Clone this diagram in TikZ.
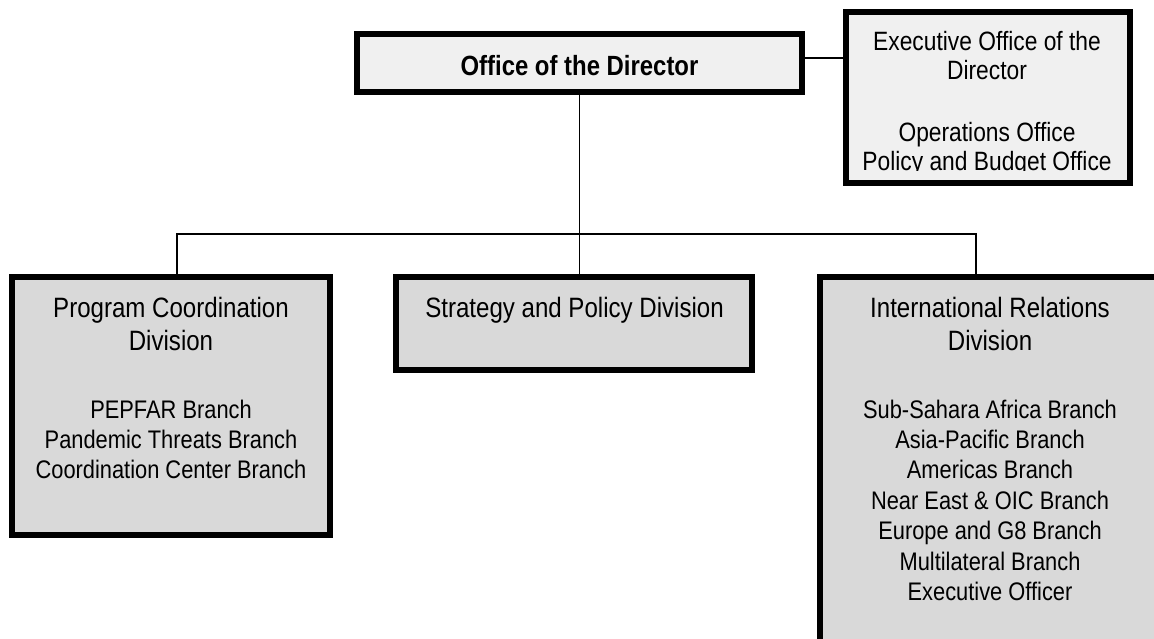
\documentclass[tikz,border=0pt]{standalone}
\usepackage{fontspec}
\setmainfont{Liberation Sans}[FakeStretch=0.86]
\definecolor{lightbox}{HTML}{F0F0F0}
\definecolor{graybox}{HTML}{D9D9D9}
\newcommand{\ctab}[1]{\begin{tabular}[t]{@{}c@{}}#1\end{tabular}}
\begin{document}
\begin{tikzpicture}[x=0.5pt,y=-0.5pt,
  orgbox/.style={draw=black,line width=3pt,inner sep=0pt,outer sep=0pt,rectangle},
  topbox/.style={orgbox,fill=lightbox},
  divbox/.style={orgbox,fill=graybox},
  txt/.style={inner sep=0pt,outer sep=0pt,anchor=base},
  titlefont/.style={font=\fontsize{14}{16.5}\selectfont},
  listfont/.style={font=\fontsize{12.7}{15.2}\selectfont},
  link/.style={draw=black,line width=0.7pt}]
\useasboundingbox (0,0) rectangle (1154,638);
\clip (0,0) rectangle (1154,638);
\fill[white] (0,0) rectangle (1154,638);
% boxes
\node[topbox,minimum width=222.5pt,minimum height=29pt] (dir) at (579.5,63) {};
\node[topbox,minimum width=142pt,minimum height=85.5pt] (exec) at (988,97.5) {};
\node[divbox,minimum width=159pt,minimum height=129pt] (pc) at (171,406) {};
\node[divbox,minimum width=178pt,minimum height=46.5pt] (strat) at (574,323.5) {};
\node[divbox,minimum width=170pt,minimum height=190pt] (ir) at (990,467) {};
% texts
\node[txt,font=\fontsize{13.9}{16}\selectfont\bfseries] (dirtext) at (579.5,75) {Office of the Director};
\begin{scope}
  \clip (846,12) rectangle (1130,170.5);
  \node[txt,font=\fontsize{13.25}{14.5}\selectfont] (exectext) at (987,50)
    {\ctab{Executive Office of the\\Director\\[16.5pt]Operations Office\\Policy and Budget Office}};
\end{scope}
\node[txt,titlefont] (pctitle) at (171,317) {\ctab{Program Coordination\\Division}};
\node[txt,listfont] (pclist) at (171,418) {\ctab{PEPFAR Branch\\Pandemic Threats Branch\\Coordination Center Branch}};
\node[txt,titlefont] (strattitle) at (574.5,317) {Strategy and Policy Division};
\node[txt,titlefont] (irtitle) at (990,317) {\ctab{International Relations\\Division}};
\node[txt,listfont] (irlist) at (990,418) {\ctab{Sub-Sahara Africa Branch\\Asia-Pacific Branch\\Americas Branch\\Near East \& OIC Branch\\Europe and G8 Branch\\Multilateral Branch\\Executive Officer}};
% connectors
\coordinate (busL) at (177,234);
\coordinate (busR) at (976,234);
\draw[link] ([yshift=2.5pt]dir.east) -- ([yshift=2.5pt]dir.east -| exec.west);
\draw[link] (dir.south) -- (dir.south |- strat.north);
\draw[link] (pc.north -| busL) -- (busL) -- (busR) -- (ir.north -| busR);
\end{tikzpicture}
\end{document}
